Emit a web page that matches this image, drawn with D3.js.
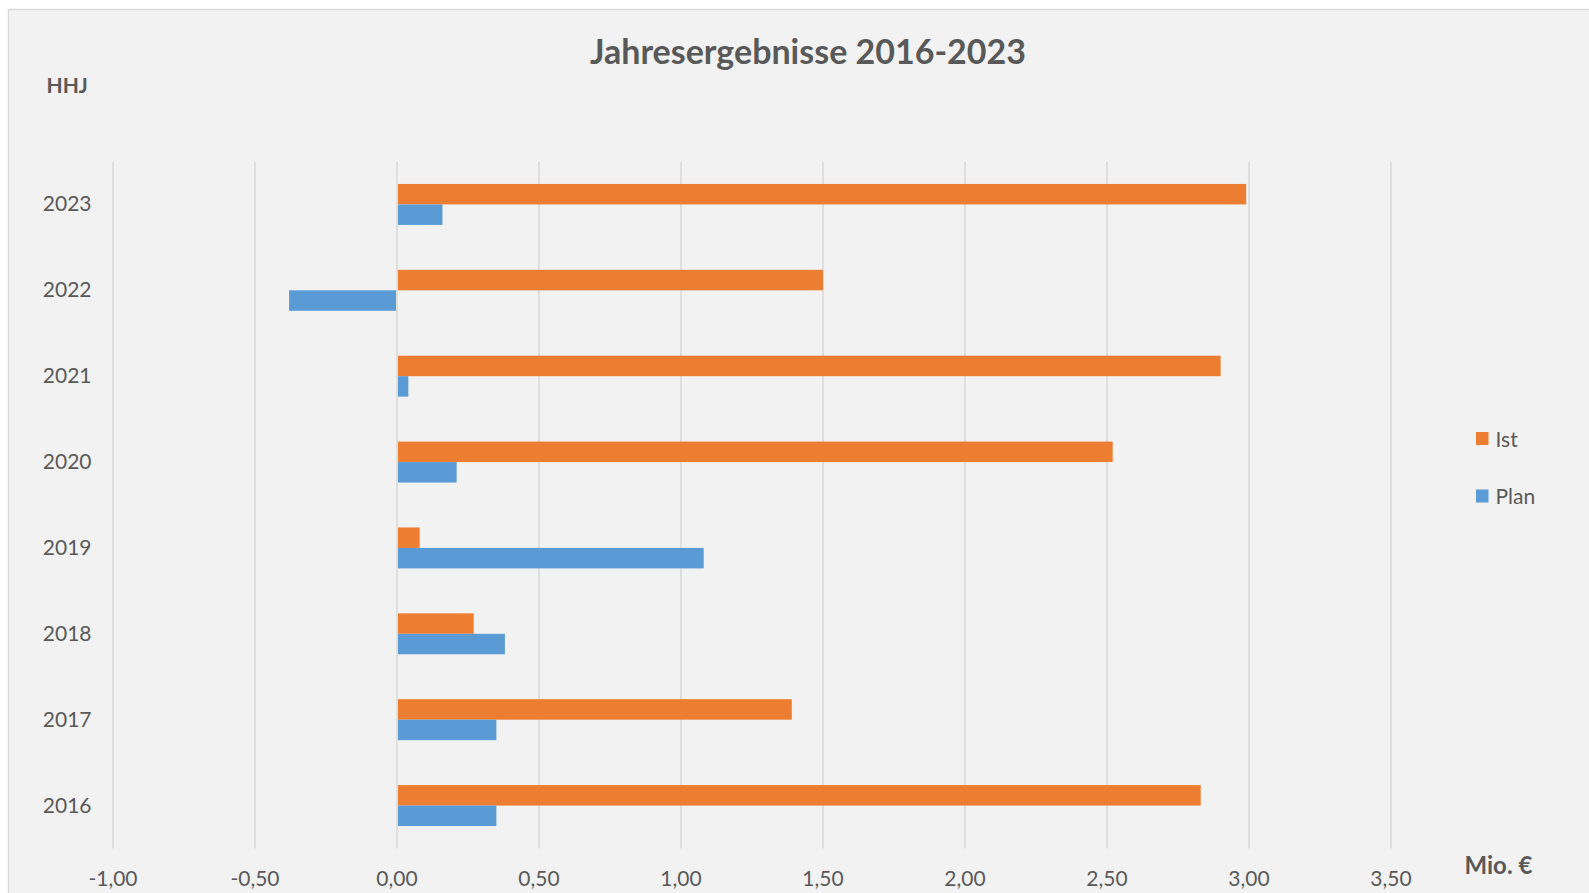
<!DOCTYPE html>
<html>
<head>
<meta charset="utf-8">
<script src="https://cdn.jsdelivr.net/npm/d3@7"></script>
<style>
  html, body { margin: 0; padding: 0; background: #ffffff; }
  text { font-family: Lato, "Open Sans", sans-serif; fill: #595959; }
</style>
</head>
<body>
<script>
const w = 1589;
const h = 893;

// Werte (Mio. €) je Haushaltsjahr
const years = ["2016", "2017", "2018", "2019", "2020", "2021", "2022", "2023"];
const ist = [2.83, 1.39, 0.27, 0.08, 2.52, 2.90, 1.50, 2.99];
const plan = [0.35, 0.35, 0.38, 1.08, 0.21, 0.04, -0.38, 0.16];
const seriesNames = ["Ist", "Plan"];
const xTicks = [-1, -0.5, 0, 0.5, 1, 1.5, 2, 2.5, 3, 3.5];

const colors = { Ist: "#ed7d31", Plan: "#5b9bd5" };

const plotTop = 161.5;
const plotBottom = 848.5;

const data = years.map(function (y, i) {
  return { year: y, Ist: ist[i], Plan: plan[i] };
});

const svg = d3.select("body").append("svg")
  .attr("width", w)
  .attr("height", h);

// Diagrammfläche
svg.append("rect")
  .attr("x", 8.5)
  .attr("y", 9.5)
  .attr("width", 1700)
  .attr("height", 1000)
  .attr("fill", "#f2f2f2")
  .attr("stroke", "#d9d9d9")
  .attr("stroke-width", 1.5);

const xScale = d3.scaleLinear()
  .domain([-1, 3.5])
  .range([113, 1391]);

const yScale = d3.scaleBand()
  .domain(years.slice().reverse())
  .range([plotTop, plotBottom])
  .paddingInner(0.523)
  .paddingOuter(0.2615);

const subScale = d3.scaleBand()
  .domain(seriesNames)
  .range([0, yScale.bandwidth()]);

const de = d3.formatLocale({ decimal: ",", thousands: ".", grouping: [3], currency: ["", " €"] });
const fmt = de.format(".2f");

// Gitternetzlinien
svg.append("g")
  .selectAll("line")
  .data(xTicks)
  .enter()
  .append("line")
  .attr("x1", d => xScale(d))
  .attr("x2", d => xScale(d))
  .attr("y1", plotTop)
  .attr("y2", plotBottom)
  .attr("stroke", "#d9d9d9")
  .attr("stroke-width", 1.5);

// Balken
const groups = svg.append("g")
  .selectAll(".year")
  .data(data)
  .enter()
  .append("g")
  .attr("class", "year")
  .attr("transform", d => "translate(0," + yScale(d.year) + ")");

groups.selectAll("rect")
  .data(d => seriesNames.map(k => ({ key: k, value: d[k] })))
  .enter()
  .append("rect")
  .attr("x", d => d.value < 0 ? xScale(d.value) : xScale(0) + 1)
  .attr("y", d => subScale(d.key))
  .attr("width", d => Math.max(0, Math.abs(xScale(d.value) - xScale(0)) - 1))
  .attr("height", subScale.bandwidth())
  .attr("fill", d => colors[d.key]);

// x-Achse Beschriftung
svg.append("g")
  .selectAll("text")
  .data(xTicks)
  .enter()
  .append("text")
  .attr("x", d => xScale(d))
  .attr("y", 886)
  .attr("text-anchor", "middle")
  .style("font-size", "21px")
  .text(d => fmt(d).replace("−", "-"));

// y-Achse Beschriftung
svg.append("g")
  .selectAll("text")
  .data(years)
  .enter()
  .append("text")
  .attr("x", 91.5)
  .attr("y", d => yScale(d) + yScale.bandwidth() / 2 + 7)
  .attr("text-anchor", "end")
  .style("font-size", "21px")
  .text(d => d);

// Titel
svg.append("text")
  .attr("x", 808)
  .attr("y", 64)
  .attr("text-anchor", "middle")
  .style("font-size", "34px")
  .style("font-weight", "bold")
  .text("Jahresergebnisse 2016-2023");

svg.append("text")
  .attr("x", 46.5)
  .attr("y", 92.5)
  .style("font-size", "21px")
  .style("font-weight", "bold")
  .text("HHJ");

svg.append("text")
  .attr("x", 1464.5)
  .attr("y", 874)
  .style("font-size", "24px")
  .style("font-weight", "bold")
  .text("Mio. €");

// Legende
const legend = svg.append("g")
  .selectAll("g")
  .data(seriesNames)
  .enter()
  .append("g")
  .attr("transform", (d, i) => "translate(1476," + (432 + i * 57.5) + ")");

legend.append("rect")
  .attr("width", 12.5)
  .attr("height", 13)
  .attr("fill", d => colors[d]);

legend.append("text")
  .attr("x", 19.5)
  .attr("y", 14.5)
  .style("font-size", "21px")
  .text(d => d);
</script>
</body>
</html>
